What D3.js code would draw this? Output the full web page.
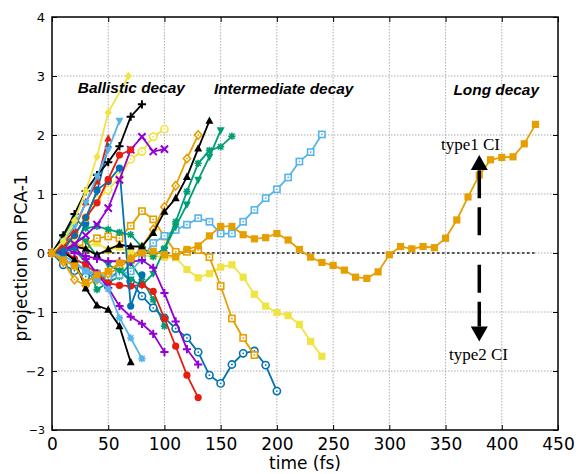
<!DOCTYPE html>
<html>
<head>
<meta charset="utf-8">
<script src="https://cdn.jsdelivr.net/npm/d3@7"></script>
<style>
  body { margin: 0; background: #fff; }
</style>
</head>
<body>
<svg id="chart" width="579" height="474"></svg>
<script>
// Sampling grid of the trajectories (fs)
const timeFs = [0, 10, 20, 30, 40, 50, 60, 70, 80, 90, 100, 110, 120, 130, 140, 150, 160, 170, 180, 190,
  200, 210, 220, 230, 240, 250, 260, 270, 280, 290, 300, 310, 320, 330, 340, 350, 360, 370, 380, 390,
  400, 410, 420, 430];
const xTicks = [0, 50, 100, 150, 200, 250, 300, 350, 400, 450];
const yTicks = [-3, -2, -1, 0, 1, 2, 3, 4];

// Projection on PCA-1 for each trajectory, one value per sample of timeFs
const yellowDiamondTimes = [0, 10, 20, 30, 40, 50, 68];
const yellowDiamond = [0, 0.2, 0.55, 1.05, 1.63, 2.38, 3.0];
const skyTriDown    = [0, 0.2, 0.45, 0.85, 1.3, 1.75, 2.24];
const blackPlus     = [0, 0.3, 0.66, 1.05, 1.32, 1.54, 1.81, 2.31, 2.52];
const redTriUp      = [0, 0.15, 0.4, 0.86, 1.21, 1.94];
const blueDiamond   = [0, 0.05, 0.3, 0.6, 1.04, 1.8];
const redCircleUp   = [0, 0.1, 0.3, 0.6, 0.85, 1.25, 1.66, 1.75];
const purpleCross   = [0, 0.05, 0.15, 0.3, 0.48, 0.76, 1.24, 1.75, 1.97, 1.72, 1.76];
const yellowRing    = [0, 0.1, 0.3, 0.6, 0.9, 1.07, 1.29, 1.59, 1.72, 1.97, 2.1];
const blueDot       = [0, 0.0, 0.1, 0.5, 1.07, 1.21, 1.44, -0.9, -0.37];
const blackTriDown  = [0, 0.02, -0.12, -0.6, -0.89, -0.96, -1.24, -1.85];
const skyStar       = [0, -0.05, -0.15, -0.3, -0.45, -0.61, -1.1, -1.44, -1.79];
const purplePlusA   = [0, 0.05, 0.1, -0.1, -0.35, -0.59, -0.9, -1.08, -1.2, -1.37, -1.68];
const purplePlusB   = [0, 0.1, 0.0, -0.05, -0.1, -0.14, -0.14, -0.15, -0.12, -0.25, -0.68, -1.16, -1.63, -1.89];
const redCircleDown = [0, 0.05, -0.1, -0.2, -0.35, -0.51, -0.55, -0.56, -0.54, -0.65, -1.11, -1.58, -2.07, -2.45];
const blueRing      = [0, -0.2, -0.3, -0.4, -0.35, -0.45, -0.3, -0.48, -0.73, -0.93, -1.1, -1.28, -1.44, -1.68,
  -2.07, -2.21, -1.89, -1.7, -1.66, -1.9, -2.34];
const greenStarDown = [0, 0.1, 0.05, -0.15, -0.62, -0.5, -0.4, -0.17, -0.45, -0.79, -1.24];
const orangeDiamond = [0, -0.15, -0.45, -0.55, -0.45, -0.35, -0.25, -0.1, 0.1, 0.4, 0.78, 1.14, 1.6, 2.0];
const blackTriMid   = [0, 0.03, 0.11, 0.07, -0.03, 0.06, 0.14, 0.11, 0.11, 0.34, 0.7, 0.93, 1.29, 1.77, 2.24];
const greenTriDown  = [0, 0.15, 0.3, 0.2, -0.05, -0.2, -0.3, -0.45, -0.55, -0.35, 0.06, 0.45, 0.82, 1.24, 1.63, 2.08];
const greenStarUp   = [0, 0.28, 0.59, 0.42, 0.45, 0.4, 0.35, 0.31, 0.1, -0.06, 0.08, 0.53, 1.04, 1.52, 1.74, 1.8, 1.98];
const skySquare     = [0, -0.1, -0.2, -0.3, -0.35, -0.4, -0.37, -0.31, -0.1, 0.17, 0.29, 0.39, 0.48, 0.59, 0.53,
  0.33, 0.33, 0.53, 0.73, 0.93, 1.08, 1.28, 1.55, 1.71, 2.01];
const orangeSquare  = [0, 0.05, 0.1, 0.15, 0.25, 0.28, 0.25, 0.46, 0.71, 0.57, 0.28, 0.02, 0.02, 0.05, -0.07,
  -0.56, -1.11, -1.44, -1.73];
const yellowSquare  = [0, 0.1, 0.15, 0.1, 0.17, 0.05, 0.1, 0.0, -0.05, -0.05, -0.07, -0.08, -0.28, -0.42, -0.35,
  -0.24, -0.2, -0.41, -0.7, -0.9, -1.01, -1.06, -1.21, -1.5, -1.75];
const orangeLong    = [0, -0.12, -0.22, -0.5, -0.37, -0.31, -0.17, -0.1, 0.0, 0.03, -0.03, -0.06, 0.06, 0.12,
  0.29, 0.45, 0.45, 0.31, 0.24, 0.26, 0.33, 0.22, 0.06, -0.07, -0.16, -0.21, -0.29, -0.41, -0.43, -0.32,
  -0.03, 0.11, 0.07, 0.11, 0.09, 0.25, 0.56, 0.95, 1.32, 1.58, 1.62, 1.63, 1.85, 2.18];

const regionLabels = ["Ballistic decay", "Intermediate decay", "Long decay"];
const ciLabels = ["type1 CI", "type2 CI"];

// Palette
const C = {
  purple: "#9400D3", green: "#009E73", sky: "#56B4E9", orange: "#E69F00",
  yellow: "#F0E442", blue: "#0072B2", red: "#E51E10", black: "#000000"
};

const trajectories = [
  { v: greenStarDown, color: C.green, mk: "star" },
  { v: blueRing, color: C.blue, mk: "ringO" },
  { v: yellowSquare, color: C.yellow, mk: "squareF" },
  { v: orangeSquare, color: C.orange, mk: "squareO" },
  { v: skySquare, color: C.sky, mk: "squareO" },
  { v: orangeDiamond, color: C.orange, mk: "diamondO" },
  { v: greenTriDown, color: C.green, mk: "triDownF" },
  { v: greenStarUp, color: C.green, mk: "star" },
  { v: blackTriMid, color: C.black, mk: "triUpF" },
  { v: redCircleDown, color: C.red, mk: "circleF" },
  { v: purplePlusB, color: C.purple, mk: "plus" },
  { v: purplePlusA, color: C.purple, mk: "plus" },
  { v: skyStar, color: C.sky, mk: "star" },
  { v: blackTriDown, color: C.black, mk: "triUpF" },
  { v: blueDot, color: C.blue, mk: "circleF" },
  { v: yellowRing, color: C.yellow, mk: "ringO" },
  { v: purpleCross, color: C.purple, mk: "cross" },
  { v: redCircleUp, color: C.red, mk: "circleF" },
  { v: blueDiamond, color: C.blue, mk: "diamondF" },
  { v: redTriUp, color: C.red, mk: "triUpF" },
  { v: blackPlus, color: C.black, mk: "plus" },
  { v: skyTriDown, color: C.sky, mk: "triDownF" },
  { v: yellowDiamond, t: yellowDiamondTimes, color: C.yellow, mk: "diamondF" },
  { v: orangeLong, color: C.orange, mk: "squareF" }
];

const SANS = '"DejaVu Sans", sans-serif';
const svg = d3.select("#chart");
const W = 579, H = 474;
const m = { left: 52, right: 21, top: 17, bottom: 44 };
const pw = W - m.left - m.right, ph = H - m.top - m.bottom;

const x = d3.scaleLinear().domain([0, 450]).range([m.left, m.left + pw]);
const y = d3.scaleLinear().domain([-3, 4]).range([m.top + ph, m.top]);

// grid
const grid = svg.append("g");
grid.selectAll(".gx").data(xTicks.slice(1, -1)).join("line")
  .attr("x1", d => x(d)).attr("x2", d => x(d)).attr("y1", m.top).attr("y2", m.top + ph)
  .attr("stroke", "#9a9a9a").attr("stroke-width", 0.8).attr("stroke-dasharray", "1.5,1.5");
grid.selectAll(".gy").data(yTicks.slice(1, -1)).join("line")
  .attr("x1", m.left).attr("x2", m.left + pw).attr("y1", d => y(d)).attr("y2", d => y(d))
  .attr("stroke", "#9a9a9a").attr("stroke-width", 0.8).attr("stroke-dasharray", "1.5,1.5");

// zero reference
svg.append("line")
  .attr("x1", x(0)).attr("x2", x(430)).attr("y1", y(0)).attr("y2", y(0))
  .attr("stroke", "#555").attr("stroke-width", 2).attr("stroke-dasharray", "2.5,2.5");

// axes
const xAxis = d3.axisBottom(x).tickValues(xTicks).tickFormat(d3.format("d")).tickSize(-5).tickPadding(8);
const gx = svg.append("g").attr("transform", `translate(0,${m.top + ph})`).call(xAxis);
gx.select(".domain").remove();
gx.selectAll("text").style("font-family", SANS).style("font-size", "17px").attr("fill", "#000");
const xAxisTop = d3.axisTop(x).tickValues(xTicks).tickSize(-5).tickFormat("");
svg.append("g").attr("transform", `translate(0,${m.top})`).call(xAxisTop).select(".domain").remove();

const yAxis = d3.axisLeft(y).tickValues(yTicks).tickFormat(d3.format("d")).tickSize(-5).tickPadding(7);
const gy = svg.append("g").attr("transform", `translate(${m.left},0)`).call(yAxis);
gy.select(".domain").remove();
gy.selectAll("text").style("font-family", SANS).style("font-size", d => d === -3 ? "11px" : "13px").attr("fill", "#000");
const yAxisRight = d3.axisRight(y).tickValues(yTicks).tickSize(-5).tickFormat("");
svg.append("g").attr("transform", `translate(${m.left + pw},0)`).call(yAxisRight).select(".domain").remove();

svg.append("rect").attr("x", m.left).attr("y", m.top).attr("width", pw).attr("height", ph)
  .attr("fill", "none").attr("stroke", "#000").attr("stroke-width", 1.5);

svg.append("text").attr("x", x(225)).attr("y", 469).attr("text-anchor", "middle")
  .style("font-family", SANS).style("font-size", "17px").text("time (fs)");
svg.append("text").attr("transform", `translate(27,258) rotate(-90)`).attr("text-anchor", "middle")
  .style("font-family", SANS).style("font-size", "17px").text("projection on PCA-1");

// markers
function drawMarker(g, type, color) {
  const s = 3.6;
  switch (type) {
    case "circleF":
      g.append("circle").attr("r", s).attr("fill", color); break;
    case "ringO":
      g.append("circle").attr("r", s).attr("fill", "#fff").attr("stroke", color).attr("stroke-width", 1.6);
      g.append("circle").attr("r", 0.9).attr("fill", color); break;
    case "squareF":
      g.append("rect").attr("x", -s).attr("y", -s).attr("width", 2 * s).attr("height", 2 * s).attr("fill", color); break;
    case "squareO":
      g.append("rect").attr("x", -s + 0.5).attr("y", -s + 0.5).attr("width", 2 * s - 1).attr("height", 2 * s - 1)
        .attr("fill", "#fff").attr("stroke", color).attr("stroke-width", 1.6);
      g.append("rect").attr("x", -0.8).attr("y", -0.8).attr("width", 1.6).attr("height", 1.6).attr("fill", color); break;
    case "triUpF":
      g.append("path").attr("d", `M0,${-s - 0.8}L${s + 0.4},${s - 0.6}L${-s - 0.4},${s - 0.6}Z`).attr("fill", color); break;
    case "triDownF":
      g.append("path").attr("d", `M0,${s + 0.8}L${s + 0.4},${-s + 0.6}L${-s - 0.4},${-s + 0.6}Z`).attr("fill", color); break;
    case "diamondF":
      g.append("path").attr("d", `M0,${-s - 0.6}L${s},0L0,${s + 0.6}L${-s},0Z`).attr("fill", color); break;
    case "diamondO":
      g.append("path").attr("d", `M0,${-s - 0.6}L${s},0L0,${s + 0.6}L${-s},0Z`).attr("fill", "#fff")
        .attr("stroke", color).attr("stroke-width", 1.6);
      g.append("circle").attr("r", 0.9).attr("fill", color); break;
    case "plus":
      g.append("path").attr("d", `M${-s - 0.5},0H${s + 0.5}M0,${-s - 0.5}V${s + 0.5}`)
        .attr("stroke", color).attr("stroke-width", 2); break;
    case "cross":
      g.append("path").attr("d", `M${-s},${-s}L${s},${s}M${-s},${s}L${s},${-s}`)
        .attr("stroke", color).attr("stroke-width", 2); break;
    case "star":
      g.append("path").attr("d", `M${-s},0H${s}M0,${-s}V${s}M${-s * 0.75},${-s * 0.75}L${s * 0.75},${s * 0.75}M${-s * 0.75},${s * 0.75}L${s * 0.75},${-s * 0.75}`)
        .attr("stroke", color).attr("stroke-width", 1.6); break;
  }
}

const line = d3.line().x(d => x(d[0])).y(d => y(d[1]));
const plot = svg.append("g");
trajectories.forEach(tr => {
  const times = tr.t || timeFs;
  const pts = tr.v.map((v, i) => [times[i], v]);
  const g = plot.append("g");
  g.append("path").attr("d", line(pts)).attr("fill", "none").attr("stroke", tr.color).attr("stroke-width", 1.8);
  pts.forEach(p => {
    drawMarker(g.append("g").attr("transform", `translate(${x(p[0])},${y(p[1])})`), tr.mk, tr.color);
  });
});

// region labels
const regionPos = [[23, 2.72], [144, 2.7], [357, 2.68]];
regionLabels.forEach((t, i) => {
  svg.append("text").attr("x", x(regionPos[i][0])).attr("y", y(regionPos[i][1]))
    .style("font-family", '"Liberation Sans", Arial, sans-serif').style("font-weight", "bold")
    .style("font-style", "italic").style("font-size", "15.4px").text(t);
});

// conical intersection arrows
const ax = x(380);
const arrowSpecs = [
  { from: 0.3, to: 1.66 },
  { from: -0.2, to: -1.5 }
];
arrowSpecs.forEach(a => {
  const dir = a.to > a.from ? -1 : 1; // screen direction of the tip
  const tip = y(a.to);
  const headLen = 15, headW = 8.5;
  svg.append("line").attr("x1", ax).attr("x2", ax).attr("y1", y(a.from)).attr("y2", tip - dir * headLen)
    .attr("stroke", "#000").attr("stroke-width", 3.5).attr("stroke-dasharray", "28,9");
  svg.append("path")
    .attr("d", `M${ax},${tip}L${ax + headW},${tip - dir * headLen}L${ax - headW},${tip - dir * headLen}Z`)
    .attr("fill", "#000");
});
svg.append("text").attr("x", 441).attr("y", 150).style("font-family", '"Liberation Serif", serif')
  .style("font-size", "17px").text(ciLabels[0]);
svg.append("text").attr("x", 449).attr("y", 360).style("font-family", '"Liberation Serif", serif')
  .style("font-size", "17px").text(ciLabels[1]);
</script>
</body>
</html>
